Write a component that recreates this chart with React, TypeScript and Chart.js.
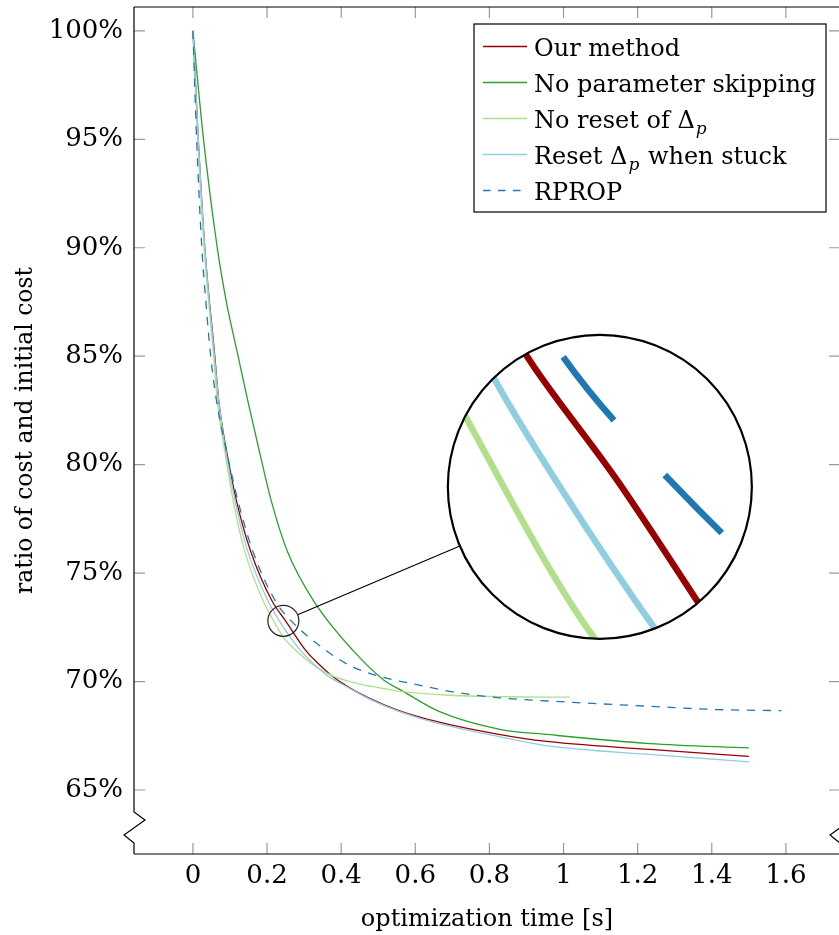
import React, { useEffect, useRef } from 'react';
import { Chart, registerables } from 'chart.js';

Chart.register(...registerables);

// ---------- data (optimization time [s] vs. cost ratio [%]) ----------
const ourTime = [0, 0.0144, 0.032, 0.059, 0.07, 0.091, 0.118, 0.156, 0.214, 0.25, 0.306, 0.34, 0.372, 0.424, 0.478, 0.55, 0.62, 0.693, 0.8, 0.936, 1.233, 1.5];
const ourCost = [100, 95, 90, 85, 82.9, 80.6, 78.3, 76.0, 73.7, 72.8, 71.4, 70.8, 70.3, 69.7, 69.22, 68.7, 68.33, 68.02, 67.65, 67.28, 66.87, 66.55];

const noSkipTime = [0, 0.0283, 0.0656, 0.0909, 0.1201, 0.1484, 0.1794, 0.2118, 0.255, 0.3265, 0.4344, 0.513, 0.567, 0.667, 0.828, 0.963, 1.233, 1.5];
const noSkipCost = [100, 95.04, 90.01, 87.45, 85.15, 82.92, 80.61, 78.31, 76.0, 73.7, 71.39, 70.1, 69.55, 68.6, 67.8, 67.55, 67.14, 66.94];

const noResetTime = [0, 0.013, 0.03, 0.056, 0.066, 0.086, 0.109, 0.14, 0.19, 0.208, 0.242, 0.283, 0.33, 0.378, 0.442, 0.5, 0.559, 0.693, 0.85, 1.017];
const noResetCost = [100, 95, 90, 85, 82.9, 80.6, 78.3, 76.0, 73.7, 73.1, 72.1, 71.35, 70.7, 70.25, 69.92, 69.72, 69.55, 69.37, 69.3, 69.28];

const resetStuckTime = [0, 0.0144, 0.032, 0.058, 0.07, 0.089, 0.114, 0.148, 0.203, 0.233, 0.292, 0.33, 0.365, 0.424, 0.478, 0.55, 0.62, 0.693, 0.8, 0.963, 1.233, 1.5];
const resetStuckCost = [100, 95, 90, 85, 82.9, 80.6, 78.3, 76.0, 73.7, 72.8, 71.4, 70.75, 70.25, 69.68, 69.18, 68.66, 68.27, 67.95, 67.55, 67.02, 66.64, 66.3];

const rpropTime = [0, 0.01, 0.024, 0.035, 0.048, 0.064, 0.091, 0.122, 0.162, 0.223, 0.265, 0.362, 0.428, 0.513, 0.621, 0.693, 0.828, 0.963, 1.233, 1.413, 1.588];
const rpropCost = [100, 95, 90, 87.5, 85, 82.9, 80.6, 78.3, 76.0, 73.7, 72.8, 71.4, 70.7, 70.2, 69.8, 69.55, 69.25, 69.1, 68.86, 68.71, 68.66];

const seriesLabels = ['Our method', 'No parameter skipping', 'No reset of Δ_p', 'Reset Δ_p when stuck', 'RPROP'];
const seriesTimes = [ourTime, noSkipTime, noResetTime, resetStuckTime, rpropTime];
const seriesCosts = [ourCost, noSkipCost, noResetCost, resetStuckCost, rpropCost];

const xTickStep = 0.2;
const yTickStep = 5;
const xTitle = 'optimization time [s]';
const yTitle = 'ratio of cost and initial cost';

// ---------- styles ----------
const FONT = "'DejaVu Serif', serif";
const seriesColors = ['#990000', '#2ca02c', '#b2df8a', '#8fcde1', '#1f77b4'];
const seriesDashed = [false, false, false, false, true];
const X_MIN = -0.159, X_MAX = 1.746;
const Y_MIN = 62.05, Y_MAX = 101.1;

// magnifier (spy) in data coordinates
const spy = { sx: 0.244, sy: 72.8, sr: 15.5, bx: 1.098, by: 78.98, br: 152, lw: 6.5 };

const framePlugin = {
  id: 'pgfFrame',
  afterDatasetsDraw(chart: any) {
    const { ctx, chartArea: a, scales } = chart;
    const xs = scales.x, ys = scales.y;
    const TL = 11;
    ctx.save();
    ctx.setLineDash([]);
    ctx.strokeStyle = '#9a9a9a';
    ctx.lineWidth = 1.2;
    ctx.beginPath();
    xs.ticks.forEach((t: any) => {
      const px = xs.getPixelForValue(t.value);
      ctx.moveTo(px, a.bottom); ctx.lineTo(px, a.bottom - TL);
      ctx.moveTo(px, a.top); ctx.lineTo(px, a.top + TL);
    });
    ys.ticks.forEach((t: any) => {
      const py = ys.getPixelForValue(t.value);
      ctx.moveTo(a.left, py); ctx.lineTo(a.left + TL, py);
      ctx.moveTo(a.right, py); ctx.lineTo(a.right - TL, py);
    });
    ctx.stroke();
    ctx.strokeStyle = '#000';
    ctx.lineWidth = 1.2;
    const side = (X: number) => {
      ctx.moveTo(X, a.top);
      ctx.lineTo(X, a.bottom - 42);
      ctx.lineTo(X + 11, a.bottom - 34);
      ctx.lineTo(X - 10, a.bottom - 19);
      ctx.lineTo(X, a.bottom - 11);
      ctx.lineTo(X, a.bottom);
    };
    ctx.beginPath();
    ctx.moveTo(a.left, a.top); ctx.lineTo(a.right, a.top);
    ctx.moveTo(a.left, a.bottom); ctx.lineTo(a.right, a.bottom);
    side(a.left);
    side(a.right);
    ctx.stroke();
    ctx.restore();
  },
  afterDraw(chart: any) {
    const { ctx, chartArea: a, scales } = chart;
    const xs = scales.x, ys = scales.y;
    // ---- magnifier ----
    const sx = xs.getPixelForValue(spy.sx), sy = ys.getPixelForValue(spy.sy);
    const bx = xs.getPixelForValue(spy.bx), by = ys.getPixelForValue(spy.by);
    const m = spy.br / spy.sr;
    const dx = bx - sx, dy = by - sy, d = Math.hypot(dx, dy);
    const ux = dx / d, uy = dy / d;
    ctx.save();
    ctx.setLineDash([]);
    ctx.strokeStyle = '#000';
    ctx.lineWidth = 1.2;
    ctx.beginPath();
    ctx.moveTo(sx + ux * spy.sr, sy + uy * spy.sr);
    ctx.lineTo(bx - ux * spy.br, by - uy * spy.br);
    ctx.stroke();
    ctx.strokeStyle = '#222';
    ctx.beginPath();
    ctx.arc(sx, sy, spy.sr, 0, Math.PI * 2);
    ctx.stroke();
    ctx.save();
    ctx.beginPath();
    ctx.arc(bx, by, spy.br, 0, Math.PI * 2);
    ctx.fillStyle = '#fff';
    ctx.fill();
    ctx.clip();
    ctx.translate(bx, by);
    ctx.scale(m, m);
    ctx.translate(-sx, -sy);
    chart.data.datasets.forEach((ds: any, i: number) => {
      const pts = chart.getDatasetMeta(i).data;
      if (!pts.length) return;
      ctx.beginPath();
      ctx.moveTo(pts[0].x, pts[0].y);
      for (let k = 1; k < pts.length; k++) {
        const p0 = pts[k - 1], p1 = pts[k];
        if (p0.cp2x !== undefined && p1.cp1x !== undefined) {
          ctx.bezierCurveTo(p0.cp2x, p0.cp2y, p1.cp1x, p1.cp1y, p1.x, p1.y);
        } else {
          ctx.lineTo(p1.x, p1.y);
        }
      }
      ctx.strokeStyle = ds.borderColor;
      ctx.lineWidth = spy.lw / m;
      ctx.setLineDash(ds.borderDash && ds.borderDash.length ? ds.borderDash : []);
      ctx.lineDashOffset = ds.borderDashOffset || 0;
      ctx.stroke();
    });
    ctx.restore();
    ctx.setLineDash([]);
    ctx.strokeStyle = '#000';
    ctx.lineWidth = 2.2;
    ctx.beginPath();
    ctx.arc(bx, by, spy.br, 0, Math.PI * 2);
    ctx.stroke();
    ctx.restore();

    // ---- legend ----
    const w = 352, h = 188;
    const x0 = a.right - 14 - w, y0 = a.top + 17;
    ctx.save();
    ctx.fillStyle = '#fff';
    ctx.fillRect(x0, y0, w, h);
    ctx.strokeStyle = '#000';
    ctx.lineWidth = 1.2;
    ctx.setLineDash([]);
    ctx.strokeRect(x0, y0, w, h);
    chart.data.datasets.forEach((ds: any, i: number) => {
      const ly = y0 + 22.5 + i * 36;
      ctx.beginPath();
      ctx.moveTo(x0 + 9, ly);
      ctx.lineTo(x0 + 53, ly);
      ctx.strokeStyle = ds.borderColor;
      ctx.lineWidth = 1.3;
      ctx.lineDashOffset = 0;
      ctx.setLineDash(ds.borderDash && ds.borderDash.length ? [7.5, 7.5] : []);
      ctx.stroke();
      ctx.setLineDash([]);
      let tx = x0 + 60;
      const base = ly + 9;
      ctx.fillStyle = '#000';
      ctx.textAlign = 'left';
      ctx.textBaseline = 'alphabetic';
      const parts = String(ds.label).split('_p');
      parts.forEach((part: string, k: number) => {
        ctx.font = `24px ${FONT}`;
        ctx.fillText(part, tx, base);
        tx += ctx.measureText(part).width;
        if (k < parts.length - 1) {
          ctx.font = `italic 17px ${FONT}`;
          ctx.fillText('p', tx + 1, base + 6);
          tx += ctx.measureText('p').width + 2;
        }
      });
    });
    ctx.restore();
  },
};

export default function App() {
  const ref = useRef<HTMLCanvasElement>(null);
  useEffect(() => {
    const canvas = ref.current;
    if (!canvas) return;
    Chart.defaults.font.family = FONT;
    const datasets = seriesLabels.map((label, i) => ({
      label,
      data: seriesTimes[i].map((t, k) => ({ x: t, y: seriesCosts[i][k] })),
      borderColor: seriesColors[i],
      backgroundColor: seriesColors[i],
      borderWidth: 1.3,
      borderDash: seriesDashed[i] ? [8.3, 7.6] : [],
      borderDashOffset: 0,
      pointRadius: 0,
      fill: false,
      cubicInterpolationMode: 'monotone' as const,
      order: seriesLabels.length - i,
    }));
    const chart = new Chart(canvas, {
      type: 'line',
      data: { datasets },
      options: {
        animation: false,
        responsive: false,
        devicePixelRatio: 1,
        layout: { padding: { top: 7, right: 20, bottom: 0, left: 0 } },
        plugins: { legend: { display: false }, tooltip: { enabled: false } },
        scales: {
          x: {
            type: 'linear',
            min: X_MIN,
            max: X_MAX,
            grid: { display: false, drawTicks: false, tickLength: 0 },
            border: { display: false },
            ticks: {
              stepSize: xTickStep,
              includeBounds: false,
              autoSkip: false,
              maxRotation: 0,
              padding: 7,
              color: '#000',
              font: { size: 26, family: FONT },
              callback: (v: any) => String(Math.round(Number(v) * 10) / 10),
            },
            title: { display: true, text: xTitle, color: '#000', font: { size: 24, family: FONT }, padding: { top: 0, bottom: 1 } },
            afterFit: (s: any) => { s.height = 81; s.paddingLeft = 0; s.paddingRight = 0; },
          },
          y: {
            type: 'linear',
            min: Y_MIN,
            max: Y_MAX,
            grid: { display: false, drawTicks: false, tickLength: 0 },
            border: { display: false },
            ticks: {
              stepSize: yTickStep,
              includeBounds: false,
              autoSkip: false,
              padding: 11,
              color: '#000',
              font: { size: 26, family: FONT },
              callback: (v: any) => `${Math.round(Number(v))}%`,
            },
            title: { display: true, text: yTitle, color: '#000', font: { size: 23.5, family: FONT }, padding: { top: 12, bottom: 0 } },
            afterFit: (s: any) => { s.width = 134; s.paddingTop = 0; s.paddingBottom = 0; },
          },
        },
      },
      plugins: [framePlugin],
    } as any);
    return () => chart.destroy();
  }, []);
  return (
    <div style={{ position: 'absolute', left: 0, top: 0, width: 839, height: 935, overflow: 'hidden', background: '#fff' }}>
      <canvas ref={ref} width={860} height={935} style={{ display: 'block', width: 860, height: 935 }} />
    </div>
  );
}
